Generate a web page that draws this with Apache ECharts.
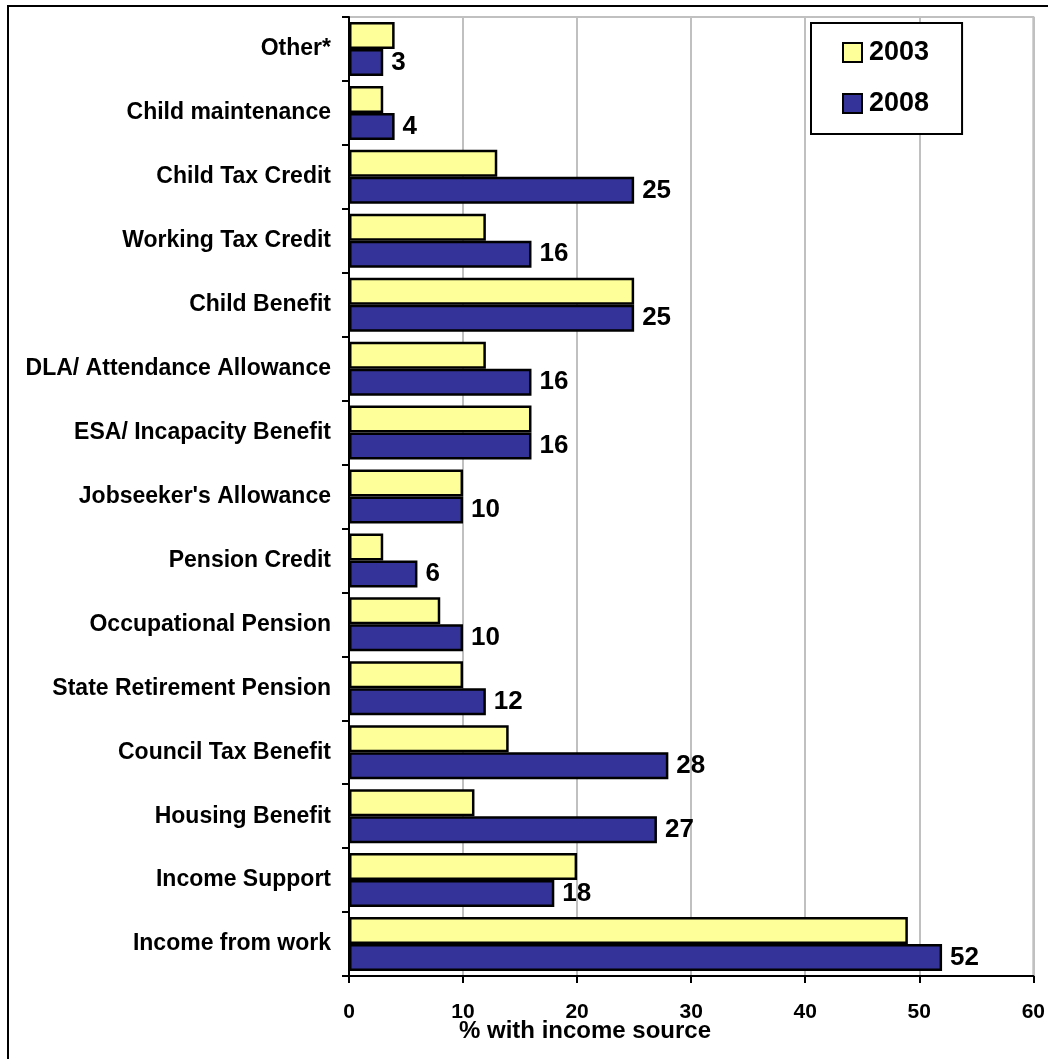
<!DOCTYPE html>
<html>
<head>
<meta charset="utf-8">
<script src="https://cdn.jsdelivr.net/npm/echarts@6/dist/echarts.min.js"></script>
<style>
  html, body { margin: 0; padding: 0; background: #fff; }
  #chart { width: 1048px; height: 1059px; }
</style>
</head>
<body>
<div id="chart"></div>
<script>
// Income sources, listed top to bottom
const categories = [
  'Other*', 'Child maintenance', 'Child Tax Credit', 'Working Tax Credit',
  'Child Benefit', 'DLA/ Attendance Allowance', 'ESA/ Incapacity Benefit',
  "Jobseeker's Allowance", 'Pension Credit', 'Occupational Pension',
  'State Retirement Pension', 'Council Tax Benefit', 'Housing Benefit',
  'Income Support', 'Income from work'
];
// % with income source
const values2003 = [4, 3, 13, 12, 25, 12, 16, 10, 3, 8, 10, 14, 11, 20, 49];
const values2008 = [3, 4, 25, 16, 25, 16, 16, 10, 6, 10, 12, 28, 27, 18, 52];
const seriesNames = ['2003', '2008'];
const xTicks = { min: 0, max: 60, interval: 10 };
const axisTitle = '% with income source';

const FONT = 'Arial, "Liberation Sans", sans-serif';
const chart = echarts.init(document.getElementById('chart'));

chart.setOption({
  backgroundColor: '#fff',
  animation: false,
  grid: {
    left: 349, right: 12, top: 17, bottom: 83,
    show: true, borderColor: '#c0c0c0', borderWidth: 2, backgroundColor: '#fff'
  },
  legend: {
    data: seriesNames,
    orient: 'vertical',
    left: 811, top: 23,
    padding: [16, 33, 17, 31],
    itemGap: 24,
    itemWidth: 19, itemHeight: 19,
    icon: 'rect',
    backgroundColor: '#fff',
    borderColor: '#000', borderWidth: 2,
    textStyle: { fontFamily: FONT, fontWeight: 'bold', fontSize: 27, color: '#000', lineHeight: 27, padding: [0, 0, 0, 2] }
  },
  xAxis: {
    type: 'value',
    min: xTicks.min, max: xTicks.max, interval: xTicks.interval,
    axisLine: { show: true, lineStyle: { color: '#000', width: 2 } },
    axisTick: { show: true, length: 7, lineStyle: { color: '#000', width: 2 } },
    axisLabel: { margin: 26, fontFamily: FONT, fontWeight: 'bold', fontSize: 21, color: '#000' },
    splitLine: { show: true, lineStyle: { color: '#c0c0c0', width: 2 } }
  },
  yAxis: {
    type: 'category',
    inverse: true,
    data: categories,
    axisLine: { show: true, lineStyle: { color: '#000', width: 2 } },
    axisTick: { show: true, length: 7, lineStyle: { color: '#000', width: 2 } },
    axisLabel: { margin: 18, fontFamily: FONT, fontWeight: 'bold', fontSize: 23, color: '#000' },
    splitLine: { show: false }
  },
  series: [
    {
      name: seriesNames[0],
      type: 'bar',
      data: values2003,
      barWidth: 27,
      barGap: '0%',
      itemStyle: { color: '#ffff99', borderColor: '#000', borderWidth: 2.5 }
    },
    {
      name: seriesNames[1],
      type: 'bar',
      data: values2008,
      barWidth: 27,
      barGap: '0%',
      itemStyle: { color: '#333399', borderColor: '#000', borderWidth: 2.5 },
      label: {
        show: true, position: 'right', distance: 8,
        fontFamily: FONT, fontWeight: 'bold', fontSize: 26, color: '#000'
      }
    }
  ],
  graphic: [
    {
      type: 'rect',
      shape: { x: 8, y: 6, width: 1060, height: 1080 },
      style: { fill: 'none', stroke: '#000', lineWidth: 2 },
      silent: true
    },
    {
      type: 'text',
      left: 459, top: 1019,
      style: { text: axisTitle, fontFamily: FONT, fontWeight: 'bold', fontSize: 24, fill: '#000' }
    }
  ]
});
</script>
</body>
</html>
